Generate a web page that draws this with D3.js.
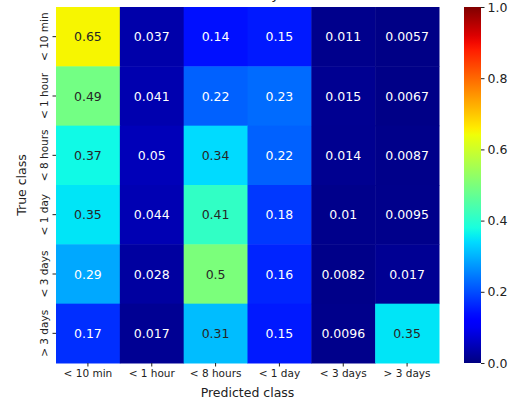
<!DOCTYPE html>
<html><head><meta charset="utf-8">
<script src="https://cdn.jsdelivr.net/npm/d3@7"></script>
<style>body{margin:0;background:#fff}svg{display:block}text{font-family:"DejaVu Sans",sans-serif;fill:#222}</style>
</head><body>
<svg id="c" width="522" height="400"></svg>
<script>
const predictedClasses = ["< 10 min","< 1 hour","< 8 hours","< 1 day","< 3 days","> 3 days"];
const trueClasses = ["< 10 min","< 1 hour","< 8 hours","< 1 day","< 3 days","> 3 days"];
const row0 = [0.65,0.037,0.14,0.15,0.011,0.0057];
const row1 = [0.49,0.041,0.22,0.23,0.015,0.0067];
const row2 = [0.37,0.05,0.34,0.22,0.014,0.0087];
const row3 = [0.35,0.044,0.41,0.18,0.01,0.0095];
const row4 = [0.29,0.028,0.5,0.16,0.0082,0.017];
const row5 = [0.17,0.017,0.31,0.15,0.0096,0.35];
const matrix = [row0,row1,row2,row3,row4,row5];
const colorbarTicks = [0,0.2,0.4,0.6,0.8,1.0];
const titleText = "Accuracy";
const xLabel = "Predicted class", yLabel = "True class";

function interp(pts, t){
  for(let i=1;i<pts.length;i++){
    if(t<=pts[i][0]){const [x0,y0]=pts[i-1],[x1,y1]=pts[i];return y0+(y1-y0)*(t-x0)/(x1-x0);}
  }
  return pts[pts.length-1][1];
}
const R=[[0,0],[0.35,0],[0.66,1],[0.89,1],[1,0.5]];
const G=[[0,0],[0.125,0],[0.375,1],[0.64,1],[0.91,0],[1,0]];
const B=[[0,0.5],[0.11,1],[0.34,1],[0.65,0],[1,0]];
function jetRGB(t){t=Math.max(0,Math.min(1,t));return [interp(R,t),interp(G,t),interp(B,t)];}
function jet(t){const c=jetRGB(t);return d3.rgb(c[0]*255,c[1]*255,c[2]*255).formatHex();}
function lum(t){const c=jetRGB(t).map(v=>v<=0.03928?v/12.92:Math.pow((v+0.055)/1.055,2.4));return 0.2126*c[0]+0.7152*c[1]+0.0722*c[2];}

const svg=d3.select("#c");
const L=56,Rt=439,T=7,Bt=363;
const x=d3.scaleBand().domain(predictedClasses).range([L,Rt]);
const y=d3.scaleBand().domain(trueClasses).range([T,Bt]);
const color=d3.scaleSequential(jet).domain([0,1]);
const fmt=d3.format(".2~g");

const cells=[];
matrix.forEach((row,i)=>row.forEach((v,j)=>cells.push({r:trueClasses[i],c:predictedClasses[j],v})));
svg.append("g").selectAll("rect").data(cells).join("rect")
  .attr("x",d=>x(d.c)).attr("y",d=>y(d.r))
  .attr("width",x.bandwidth()+0.5).attr("height",y.bandwidth()+0.5)
  .attr("fill",d=>color(d.v));
svg.append("g").selectAll("text").data(cells).join("text")
  .attr("x",d=>x(d.c)+x.bandwidth()/2).attr("y",d=>y(d.r)+y.bandwidth()/2)
  .attr("text-anchor","middle").attr("dominant-baseline","central")
  .style("font-size","12.5px")
  .style("fill",d=>lum(d.v)>0.408?"#262626":"#ffffff")
  .text(d=>fmt(d.v));

// x axis
const xa=svg.append("g").attr("transform",`translate(0,${Bt})`)
  .call(d3.axisBottom(x).tickSize(3.5).tickPadding(3.5));
xa.select(".domain").remove();
xa.selectAll("line").attr("stroke","#222");
xa.selectAll("text").style("font-size","10.5px").style("font-family","DejaVu Sans").attr("fill","#222");
// y axis
const ya=svg.append("g").attr("transform",`translate(${L},0)`)
  .call(d3.axisLeft(y).tickSize(3.5).tickPadding(0));
ya.select(".domain").remove();
ya.selectAll("line").attr("stroke","#222");
ya.selectAll("text").style("font-size","10.5px").style("font-family","DejaVu Sans").attr("fill","#222")
  .attr("x",null).attr("dy",null)
  .attr("text-anchor","middle")
  .attr("transform","translate(-12,0) rotate(-90)")
  .attr("dominant-baseline","central");

svg.append("text").attr("x",(L+Rt)/2).attr("y",397).attr("text-anchor","middle").style("font-size","12.5px").text(xLabel);
svg.append("text").attr("transform",`translate(26,${(T+Bt)/2}) rotate(-90)`).attr("text-anchor","middle").style("font-size","12.5px").text(yLabel);
svg.append("text").attr("x",(L+Rt)/2).attr("y",-1).attr("text-anchor","middle").style("font-size","14px").text(titleText);

// colorbar
const cbX=464,cbW=17;
const cy=d3.scaleLinear().domain([0,1]).range([Bt,T]);
const defs=svg.append("defs");
const grad=defs.append("linearGradient").attr("id","jetg").attr("x1","0").attr("y1","1").attr("x2","0").attr("y2","0");
d3.range(0,1.0001,0.02).forEach(t=>grad.append("stop").attr("offset",t).attr("stop-color",jet(t)));
svg.append("rect").attr("x",cbX).attr("y",T).attr("width",cbW).attr("height",Bt-T).attr("fill","url(#jetg)");
const ca=svg.append("g").attr("transform",`translate(${cbX+cbW},0)`)
  .call(d3.axisRight(cy).tickValues(colorbarTicks).tickFormat(d3.format(".1f")).tickSize(3.5).tickPadding(3));
ca.select(".domain").remove();
ca.selectAll("line").attr("stroke","#222");
ca.selectAll("text").style("font-size","12.5px").style("font-family","DejaVu Sans").attr("fill","#222");
</script>
</body></html>
